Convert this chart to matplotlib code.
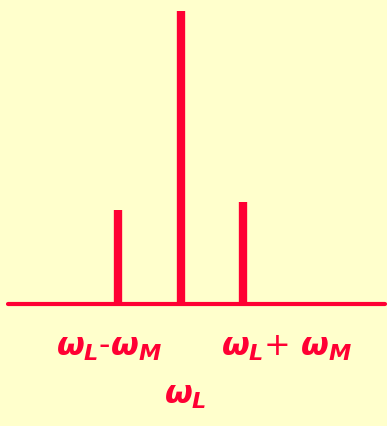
import matplotlib
matplotlib.use("Agg")
import matplotlib.pyplot as plt

# spectral lines: carrier and the two sidebands
freqs = [-1, 0, 1]              # in units of omega_M, relative to omega_L
amps = [0.32, 1.0, 0.35]
labels = [r"$\omega_L$-$\omega_M$", r"$\omega_L$", r"$\omega_L$+ $\omega_M$"]

plt.rcParams["mathtext.fontset"] = "custom"
plt.rcParams["mathtext.it"] = "DejaVu Sans:bold:italic"
plt.rcParams["mathtext.rm"] = "DejaVu Sans:bold"

bg = "#ffffcc"
red = "#ff0033"

fig = plt.figure(figsize=(3.87, 4.27), dpi=100, facecolor=bg)
ax = fig.add_axes([0, 0, 1, 1], facecolor=bg)
ax.set_xlim(-2.888, 3.304)
ax.set_ylim(-0.416, 1.041)
ax.set_axis_off()

# baseline
ax.plot([-2.76, 3.27], [0, 0], color=red, lw=3.0, solid_capstyle="round")

# lines
ax.vlines(freqs, 0, amps, color=red, lw=6, capstyle="butt")

# labels
ax.text(-1.15, -0.145, labels[0], color=red, fontsize=23, ha="center", va="center")
ax.text(1.70, -0.145, labels[2], color=red, fontsize=23, ha="center", va="center")
ax.text(0.08, -0.31, labels[1], color=red, fontsize=23, ha="center", va="center")

fig.savefig("out.png", dpi=100, facecolor=bg)
